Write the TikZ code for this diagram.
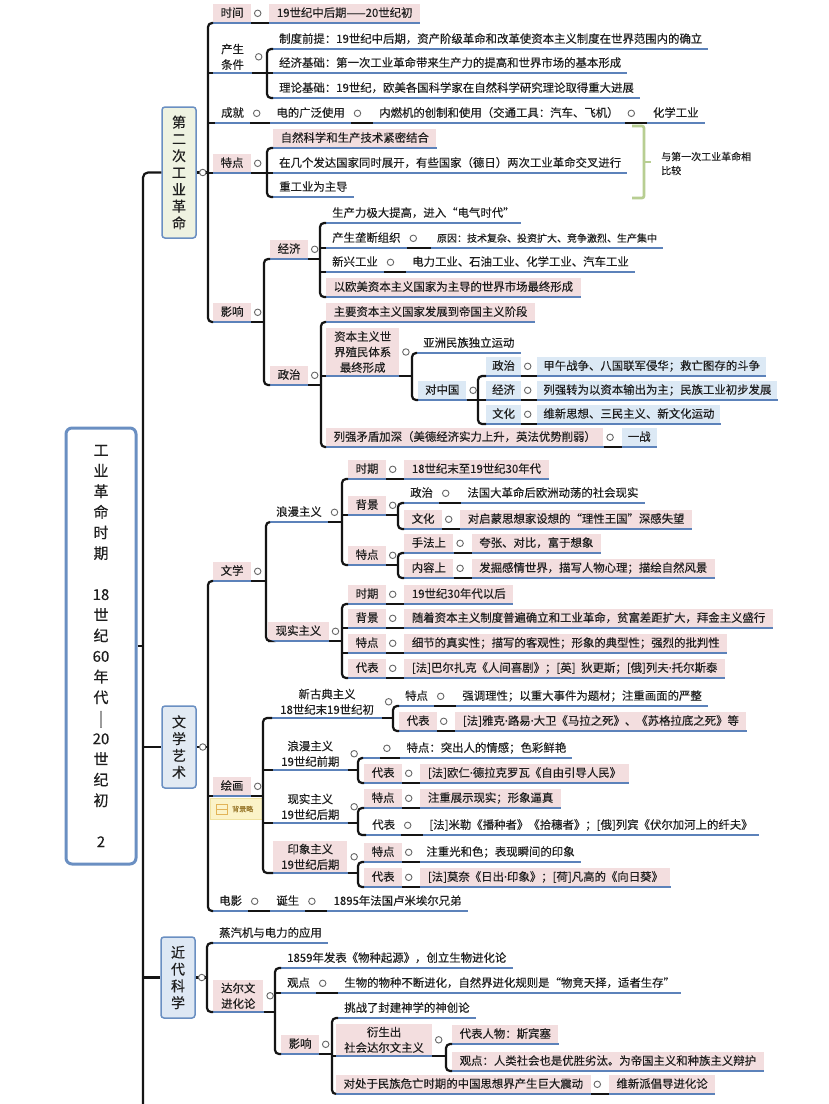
\documentclass[tikz,border=0pt]{standalone}
\usepackage{fontspec}
\setmainfont{Noto Sans CJK SC}[FakeBold=0.25]
\newfontfamily\latf{Noto Sans}[FakeBold=0.25]
\newcommand\mdot{{\latf ·}}
\definecolor{pinkc}{HTML}{F3DEDF}
\definecolor{bluec}{HTML}{DCE9F5}
\definecolor{ulc}{HTML}{5C82BA}
\definecolor{bdc}{HTML}{6A8FC2}
\definecolor{txt}{HTML}{1E1E1E}
\definecolor{gone}{HTML}{EEF2E1}
\definecolor{gtwo}{HTML}{E2EAF3}
\definecolor{gthree}{HTML}{DEE8F4}
\definecolor{bracec}{HTML}{B8CE92}
\definecolor{yelf}{HTML}{FBF3C8}
\definecolor{yelb}{HTML}{F0E2A0}
\definecolor{yeli}{HTML}{E2B458}
\definecolor{yelt}{HTML}{9B7B2F}
\newcommand\fsm{\fontsize{11.4}{15.5}\selectfont}
\newcommand\fss{\fontsize{10}{14}\selectfont}
\newcommand\brk[4]{%
  \coordinate (bx) at (#2,0);
  \draw[cn] (#1.south east) -- (bx |- #1.south east);
  \draw[cn,rounded corners=4pt] (#3.south west) -- (bx |- #3.south west) -- (bx |- #4.south west) -- (#4.south west);
  \node[dot] at ([xshift=6.5pt]#1.east) {};}
\newcommand\brm[1]{\draw[cn] (bx |- #1.south west) -- (#1.south west);}
\newcommand\chn[2]{\draw[cn] (#1.south east) -- (#2.south west); \node[dot] at ([xshift=6.5pt]#1.east) {};}
\begin{document}
\begin{tikzpicture}[x=1pt,y=-1pt,
 base/.style={anchor=south west, inner xsep=6pt, inner ysep=0pt, text height=9.6pt, text depth=2.4pt, minimum height=19pt, font=\fsm, text=txt},
 pk/.style={base, fill=pinkc, inner xsep=7.5pt},
 lb/.style={base, fill=bluec},
 pl/.style={base},
 sm/.style={base, font=\fss},
 mlb/.style={anchor=south west, align=center, inner xsep=8pt, inner ysep=3pt, font=\fsm, text=txt},
 mpk/.style={mlb, fill=pinkc},
 cn/.style={draw=black!92, line width=2.2pt},
 ul/.style={draw=ulc, line width=1.6pt},
 dot/.style={circle, draw=black!60, line width=0.9pt, fill=white, inner sep=0pt, minimum size=6.5pt},
 lvone/.style={draw=bdc, line width=1.5pt, rounded corners=3pt, minimum width=34pt, align=center, inner sep=0pt, font=\fontsize{14}{16.8}\selectfont, text=txt}
]
\useasboundingbox (0,0) rectangle (828,1104);
\fill[white] (0,0) rectangle (828,1104);

% ---------- root and level one ----------
\node[draw=bdc, line width=3pt, rounded corners=6pt, fill=white, minimum width=70pt, minimum height=436pt, align=center, inner sep=0pt, font=\fontsize{15}{20.6}\selectfont, text=txt] (root) at (101,646)
 {工\\业\\革\\命\\时\\期\\~\\18\\世\\纪\\60\\年\\代\\|\\20\\世\\纪\\初\\~\\2};
\node[lvone, fill=gone, minimum height=131pt] (S1) at (179,172.5) {第\\二\\次\\工\\业\\革\\命};
\node[lvone, fill=gtwo, minimum height=82pt] (S2) at (179,747) {文\\学\\艺\\术};
\node[lvone, fill=gthree, minimum height=81pt] (S3) at (178,977.5) {近\\代\\科\\学};

\draw[cn, rounded corners=5pt] (S1.west) -- (143,172.5) -- (143,1112);
\draw[cn] (root.east) -- (143,646);
\draw[cn] (143,747) -- (S2.west);
\draw[cn] (143,977.5) -- (S3.west);

% ---------- section 1 ----------
\node[pk] (a1) at (213,23) {时间};
\node[pk] (a1v) at ([xshift=18pt]a1.south east) {19世纪中后期——20世纪初};
\node[mlb] (a2) at (213,73) {产生\\条件};
\node[pl] (a2a) at (273,49) {制度前提：19世纪中后期，资产阶级革命和改革使资本主义制度在世界范围内的确立};
\node[pl] (a2b) at (273,73) {经济基础：第一次工业革命带来生产力的提高和世界市场的基本形成};
\node[pl] (a2c) at (273,98) {理论基础：19世纪，欧美各国科学家在自然科学研究理论取得重大进展};
\node[pl] (a3) at (215,123) {成就};
\node[pl] (a3a) at ([xshift=20pt]a3.south east) {电的广泛使用};
\node[pl] (a3b) at ([xshift=22pt]a3a.south east) {内燃机的创制和使用（交通工具：汽车、飞机）};
\node[pl] (a3c) at ([xshift=22pt]a3b.south east) {化学工业};
\node[pk] (a4) at (213,173) {特点};
\node[pk] (a4a) at (273,148) {自然科学和生产技术紧密结合};
\node[pl] (a4b) at (273,173) {在几个发达国家同时展开，有些国家（德日）两次工业革命交叉进行};
\node[pl] (a4c) at (273,197) {重工业为主导};
\draw[draw=bracec, line width=2.6pt, rounded corners=2pt] (632,126) -- (644,126) -- (644,198) -- (632,198);
\draw[draw=bracec, line width=2.6pt] (644,162) -- (651,162);
\node[anchor=west, align=left, font=\fss, text=txt, inner sep=0pt] (cmp) at (661,163.5) {与第一次工业革命相\\比较};
\node[pk] (a5) at (213,322) {影响};
\node[pk] (b1) at (270,259) {经济};
\node[pk] (b2) at (270,385) {政治};
\node[pl] (c1) at (326,223) {生产力极大提高，进入“电气时代”};
\node[pl] (c2) at (326,248) {产生垄断组织};
\node[sm] (c2v) at ([xshift=24pt]c2.south east) {原因：技术复杂、投资扩大、竞争激烈、生产集中};
\node[pl] (c3) at (326,272) {新兴工业};
\node[pl] (c3v) at ([xshift=22pt]c3.south east) {电力工业、石油工业、化学工业、汽车工业};
\node[pk] (c4) at (326,297) {以欧美资本主义国家为主导的世界市场最终形成};
\node[pk] (d1) at (326,322) {主要资本主义国家发展到帝国主义阶段};
\node[mpk] (d2) at (326,376) {资本主义世\\界殖民体系\\最终形成};
\node[pk] (d3) at (326,447) {列强矛盾加深（美德经济实力上升，英法优势削弱）};
\node[lb] (d3v) at ([xshift=18pt]d3.south east) {一战};
\node[pl] (e1) at (417,353) {亚洲民族独立运动};
\node[lb, inner xsep=7pt] (e2) at (418,400) {对中国};
\node[lb] (f1) at (486,376) {政治};
\node[lb] (f2) at (486,400) {经济};
\node[lb] (f3) at (486,424) {文化};
\node[lb] (f1v) at ([xshift=16pt]f1.south east) {甲午战争、八国联军侵华；救亡图存的斗争};
\node[lb] (f2v) at ([xshift=16pt]f2.south east) {列强转为以资本输出为主；民族工业初步发展};
\node[lb] (f3v) at ([xshift=16pt]f3.south east) {维新思想、三民主义、新文化运动};

% ---------- section 2 ----------
\node[pk] (g1n) at (213,581) {文学};
\node[pl] (h1) at (270,522) {浪漫主义};
\node[pk] (h2) at (268,641) {现实主义};
\node[pk] (i1) at (348,479) {时期};
\node[pk] (i1v) at ([xshift=18pt]i1.south east) {18世纪末至19世纪30年代};
\node[pk] (i2) at (348,515) {背景};
\node[pk] (i3) at (348,565) {特点};
\node[pl] (j1) at (404,503) {政治};
\node[pl] (j1v) at ([xshift=22pt]j1.south east) {法国大革命后欧洲动荡的社会现实};
\node[pk] (j2) at (404,529) {文化};
\node[pk] (j2v) at ([xshift=18pt]j2.south east) {对启蒙思想家设想的“理性王国”深感失望};
\node[pk] (k1) at (404,553) {手法上};
\node[pk] (k1v) at ([xshift=18pt]k1.south east) {夸张、对比，富于想象};
\node[pk] (k2) at (404,578) {内容上};
\node[pk] (k2v) at ([xshift=18pt]k2.south east) {发掘感情世界，描写人物心理；描绘自然风景};
\node[pk] (l1) at (348,604) {时期};
\node[pk] (l1v) at ([xshift=18pt]l1.south east) {19世纪30年代以后};
\node[pk] (l2) at (348,628) {背景};
\node[pk] (l2v) at ([xshift=18pt]l2.south east) {随着资本主义制度普遍确立和工业革命，贫富差距扩大，拜金主义盛行};
\node[pk] (l3) at (348,653) {特点};
\node[pk] (l3v) at ([xshift=18pt]l3.south east) {细节的真实性；描写的客观性；形象的典型性；强烈的批判性};
\node[pk] (l4) at (348,678) {代表};
\node[pk] (l4v) at ([xshift=18pt]l4.south east) {[法]巴尔扎克《人间喜剧》；[英]\enspace 狄更斯；[俄]列夫\mdot 托尔斯泰};
\node[pk] (m0) at (213,796) {绘画};
\node[draw=yelb, fill=yelf, minimum width=52pt, minimum height=21pt, inner sep=0pt, anchor=north west] (bgl) at (210,798) {};
\draw[draw=yeli, line width=0.9pt] (216,804.5) rectangle (227,814.5);
\draw[draw=yeli, line width=0.9pt] (216,809.5) -- (227,809.5);
\node[font=\fontsize{7}{8}\selectfont, text=yelt, anchor=west, inner sep=0pt] (bglt) at (232,809) {背景略};
\node[mlb] (m1) at (272,718) {新古典主义\\18世纪末19世纪初};
\node[mlb] (m2) at (273,770) {浪漫主义\\19世纪前期};
\node[mlb] (m3) at (273,823) {现实主义\\19世纪后期};
\node[mpk] (m4) at (273,873) {印象主义\\19世纪后期};
\node[pl] (n1) at (399,706) {特点};
\node[pl] (n1v) at ([xshift=22pt]n1.south east) {强调理性；以重大事件为题材；注重画面的严整};
\node[pk] (n2) at (399,731) {代表};
\node[pk] (n2v) at ([xshift=18pt]n2.south east) {[法]雅克\mdot 路易\mdot 大卫《马拉之死》、《苏格拉底之死》等};
\node[pl, minimum width=17pt] (o1) at (363,758) {};
\node[pl] (o1v) at ([xshift=20pt]o1.south east) {特点：突出人的情感；色彩鲜艳};
\node[pk] (o2) at (364,783) {代表};
\node[pk] (o2v) at ([xshift=18pt]o2.south east) {[法]欧仁\mdot 德拉克罗瓦《自由引导人民》};
\node[pk] (p1) at (364,808) {特点};
\node[pk] (p1v) at ([xshift=18pt]p1.south east) {注重展示现实；形象逼真};
\node[pl] (p2) at (366,835) {代表};
\node[pl] (p2v) at ([xshift=22pt]p2.south east) {[法]米勒《播种者》《拾穗者》；[俄]列宾《伏尔加河上的纤夫》};
\node[pk] (q1) at (364,862) {特点};
\node[pl] (q1v) at ([xshift=18pt]q1.south east) {注重光和色；表现瞬间的印象};
\node[pk] (q2) at (364,887) {代表};
\node[pk] (q2v) at ([xshift=18pt]q2.south east) {[法]莫奈《日出\mdot 印象》；[荷]凡高的《向日葵》};
\node[pl] (r1) at (213,911) {电影};
\node[pl] (r2) at ([xshift=22pt]r1.south east) {诞生};
\node[pl] (r3) at ([xshift=22pt]r2.south east) {1895年法国卢米埃尔兄弟};

% ---------- section 3 ----------
\node[pl] (s1) at (213,943) {蒸汽机与电力的应用};
\node[mpk] (s2) at (213,1012) {达尔文\\进化论};
\node[pl] (t1) at (281,968) {1859年发表《物种起源》，创立生物进化论};
\node[pl] (t2) at (281,993) {观点};
\node[pl] (t2v) at ([xshift=22pt]t2.south east) {生物的物种不断进化，自然界进化规则是“物竞天择，适者生存”};
\node[pk] (t3) at (281,1054) {影响};
\node[pl] (u1) at (338,1018) {挑战了封建神学的神创论};
\node[mpk] (u2) at (336,1056) {衍生出\\社会达尔文主义};
\node[pk] (u3) at (336,1094) {对处于民族危亡时期的中国思想界产生巨大震动};
\node[pk] (u3v) at ([xshift=18pt]u3.south east) {维新派倡导进化论};
\node[pk] (w1) at (452,1044) {代表人物：斯宾塞};
\node[pk] (w2) at (452,1071) {观点：人类社会也是优胜劣汰。为帝国主义和种族主义辩护};

% ---------- underlines ----------
\foreach \n in {a1,a1v,a2,a2a,a2b,a2c,a3,a3a,a3b,a3c,a4,a4a,a4b,a4c,a5,b1,b2,c1,c2,c2v,c3,c3v,c4,d1,d2,d3,d3v,e1,e2,f1,f2,f3,f1v,f2v,f3v,
 g1n,h1,h2,i1,i1v,i2,i3,j1,j1v,j2,j2v,k1,k1v,k2,k2v,l1,l1v,l2,l2v,l3,l3v,l4,l4v,m0,m1,m2,m3,m4,n1,n1v,n2,n2v,o1,o1v,o2,o2v,p1,p1v,p2,p2v,q1,q1v,q2,q2v,r1,r2,r3,
 s1,s2,t1,t2,t2v,t3,u1,u2,u3,u3v,w1,w2}
 {\draw[ul] (\n.south west) -- (\n.south east);}

% ---------- connectors ----------
\coordinate (bx) at (208,0);
\draw[cn] (S1.east) -- (bx |- S1.east);
\draw[cn,rounded corners=4pt] (a1.south west) -- (bx |- a1.south west) -- (bx |- a5.south west) -- (a5.south west);
\brm{a2}\brm{a3}\brm{a4}
\node[dot] at ([xshift=6pt]S1.east) {};
\chn{a1}{a1v}
\brk{a2}{267}{a2a}{a2c}\brm{a2b}
\chn{a3}{a3a}\chn{a3a}{a3b}\chn{a3b}{a3c}
\brk{a4}{267}{a4a}{a4c}\brm{a4b}
\brk{a5}{264}{b1}{b2}
\brk{b1}{320}{c1}{c4}\brm{c2}\brm{c3}
\chn{c2}{c2v}\chn{c3}{c3v}
\brk{b2}{321}{d1}{d3}\brm{d2}
\chn{d3}{d3v}
\brk{d2}{412}{e1}{e2}
\brk{e2}{478}{f1}{f3}\brm{f2}
\chn{f1}{f1v}\chn{f2}{f2v}\chn{f3}{f3v}

\coordinate (bx) at (208,0);
\draw[cn] (S2.east) -- (bx |- S2.east);
\draw[cn,rounded corners=4pt] (g1n.south west) -- (bx |- g1n.south west) -- (bx |- r1.south west) -- (r1.south west);
\brm{m0}
\node[dot] at ([xshift=6pt]S2.east) {};
\brk{g1n}{266}{h1}{h2}
\brk{h1}{342}{i1}{i3}\brm{i2}
\chn{i1}{i1v}
\brk{i2}{398}{j1}{j2}
\chn{j1}{j1v}\chn{j2}{j2v}
\brk{i3}{398}{k1}{k2}
\chn{k1}{k1v}\chn{k2}{k2v}
\brk{h2}{342}{l1}{l4}\brm{l2}\brm{l3}
\chn{l1}{l1v}\chn{l2}{l2v}\chn{l3}{l3v}\chn{l4}{l4v}
\brk{m0}{263}{m1}{m4}\brm{m2}\brm{m3}
\brk{m1}{393}{n1}{n2}
\chn{n1}{n1v}\chn{n2}{n2v}
\brk{m2}{358}{o1}{o2}
\chn{o1}{o1v}\chn{o2}{o2v}
\brk{m3}{358}{p1}{p2}
\chn{p1}{p1v}\chn{p2}{p2v}
\brk{m4}{358}{q1}{q2}
\chn{q1}{q1v}\chn{q2}{q2v}
\chn{r1}{r2}\chn{r2}{r3}

\coordinate (bx) at (207,0);
\draw[cn] (S3.east) -- (bx |- S3.east);
\draw[cn,rounded corners=4pt] (s1.south west) -- (bx |- s1.south west) -- (bx |- s2.south west) -- (s2.south west);
\node[dot] at ([xshift=6pt]S3.east) {};
\brk{s2}{275}{t1}{t3}\brm{t2}
\chn{t2}{t2v}
\brk{t3}{332}{u1}{u3}\brm{u2}
\chn{u3}{u3v}
\brk{u2}{446}{w1}{w2}
\end{tikzpicture}
\end{document}
